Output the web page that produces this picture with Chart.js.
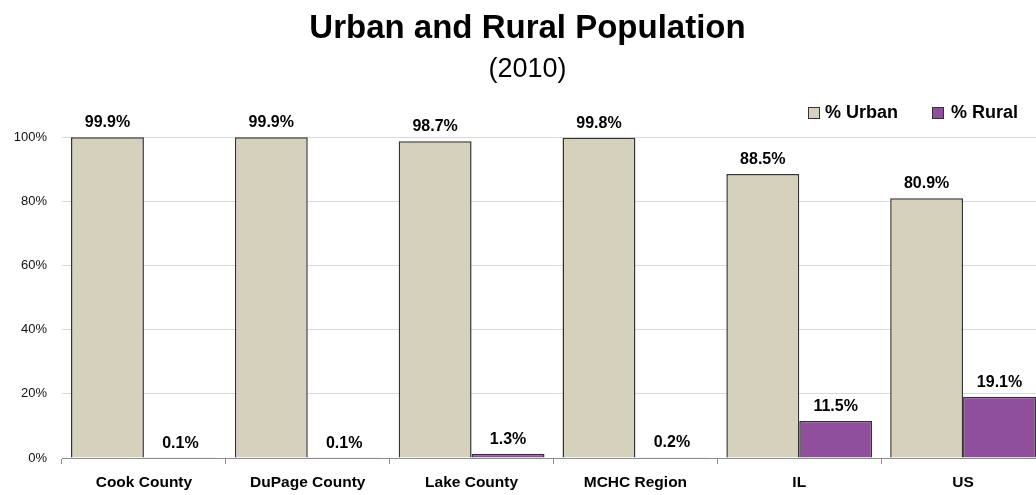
<!DOCTYPE html>
<html>
<head>
<meta charset="utf-8">
<script src="https://cdn.jsdelivr.net/npm/chart.js@4/dist/chart.umd.min.js"></script>
<style>
  html, body { margin: 0; padding: 0; background: #fff; overflow: hidden; }
  #wrap { position: relative; width: 1046px; height: 495px; }
</style>
</head>
<body>
<div id="wrap"><canvas id="c" width="1046" height="495"></canvas></div>
<script>
const categories = ['Cook County', 'DuPage County', 'Lake County', 'MCHC Region', 'IL', 'US'];
const urbanValues = [99.9, 99.9, 98.7, 99.8, 88.5, 80.9];
const ruralValues = [0.1, 0.1, 1.3, 0.2, 11.5, 19.1];
const yTicks = [0, 20, 40, 60, 80, 100];
const seriesNames = ['% Urban', '% Rural'];
const seriesColors = ['#d6d1bd', '#8f4f9c'];
const titleText = 'Urban and Rural Population';
const subtitleText = '(2010)';

const FONT = "'Liberation Sans', Arial, sans-serif";

const decorPlugin = {
  id: 'decor',
  afterDraw(chart) {
    const ctx = chart.ctx;
    ctx.save();
    // title
    ctx.fillStyle = '#000';
    ctx.textAlign = 'center';
    ctx.textBaseline = 'alphabetic';
    ctx.font = 'bold 33px ' + FONT;
    ctx.fillText(titleText, 527.5, 38);
    ctx.font = '27px ' + FONT;
    ctx.fillText(subtitleText, 527.5, 77);

    // legend
    const legendItems = [
      { box: 808, text: 825 },
      { box: 932, text: 951 }
    ];
    ctx.font = 'bold 18px ' + FONT;
    ctx.textAlign = 'left';
    ctx.textBaseline = 'middle';
    legendItems.forEach((it, i) => {
      ctx.fillStyle = seriesColors[i];
      ctx.fillRect(it.box, 107, 11, 11);
      ctx.strokeStyle = '#333';
      ctx.lineWidth = 1;
      ctx.strokeRect(it.box + 0.5, 107.5, 11, 11);
      ctx.fillStyle = '#000';
      ctx.fillText(seriesNames[i], it.text, 113);
    });

    // data labels
    ctx.font = 'bold 16px ' + FONT;
    ctx.textAlign = 'center';
    ctx.textBaseline = 'alphabetic';
    ctx.fillStyle = '#000';
    chart.data.datasets.forEach((ds, di) => {
      const meta = chart.getDatasetMeta(di);
      meta.data.forEach((bar, i) => {
        ctx.fillText(ds.data[i].toFixed(1) + '%', bar.x, bar.y - 10);
      });
    });
    ctx.restore();
  }
};

new Chart(document.getElementById('c'), {
  type: 'bar',
  data: {
    labels: categories,
    datasets: [
      { label: seriesNames[0], data: urbanValues, backgroundColor: seriesColors[0], borderColor: '#333333', borderWidth: 1.5, categoryPercentage: 0.89, barPercentage: 1.0 },
      { label: seriesNames[1], data: ruralValues, backgroundColor: seriesColors[1], borderColor: '#333333', borderWidth: 1.5, categoryPercentage: 0.89, barPercentage: 1.0 }
    ]
  },
  options: {
    responsive: false,
    animation: false,
    devicePixelRatio: 1,
    layout: { padding: { top: 137, right: 1, left: 0, bottom: 0 } },
    plugins: {
      legend: { display: false },
      title: { display: false },
      tooltip: { enabled: false }
    },
    scales: {
      x: {
        grid: { display: true, drawOnChartArea: false, drawTicks: true, tickLength: 6, tickColor: '#8c8c8c', offset: true },
        border: { display: true, color: '#8c8c8c', width: 1 },
        ticks: { color: '#000', font: { family: FONT, size: 15.5, weight: 'bold' }, padding: 9, maxRotation: 0, autoSkip: false },
        afterFit(scale) { scale.height = 37; }
      },
      y: {
        min: 0, max: 100,
        afterBuildTicks(scale) { scale.ticks = yTicks.map(v => ({ value: v })); },
        grid: { color: '#d9d9d9', drawTicks: false },
        border: { display: false },
        ticks: { color: '#111', font: { family: FONT, size: 13 }, padding: 15, callback: v => v + '%' },
        afterFit(scale) { scale.width = 62; }
      }
    }
  },
  plugins: [decorPlugin]
});
</script>
</body>
</html>
